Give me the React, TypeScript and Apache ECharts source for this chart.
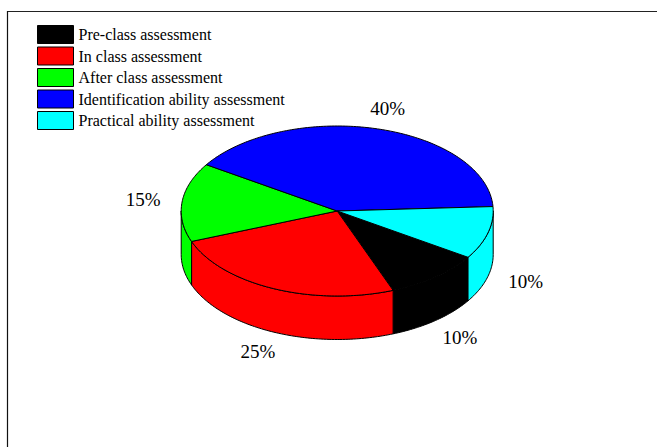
import React, { useEffect, useRef } from "react";
import * as echarts from "echarts";

const categories = [
  "Pre-class assessment",
  "In class assessment",
  "After class assessment",
  "Identification ability assessment",
  "Practical ability assessment",
];
const shares = [10, 25, 15, 40, 10];
const colors = ["#000000", "#ff0000", "#00ff00", "#0000ff", "#00ffff"];

const CX = 337.2;
const CY = 211;
const RX = 156;
const RY = 85;
const DEPTH = 43.5;
const START = 33;
const LABEL_SCALE = 1.25;
const FONT = "'Liberation Serif', 'Times New Roman', serif";

export default function App() {
  const ref = useRef<HTMLDivElement>(null);
  useEffect(() => {
    document.body.style.margin = "0";
    const chart = echarts.init(ref.current!, null, { renderer: "svg" });
    const total = shares.reduce((a, b) => a + b, 0);
    const starts: number[] = [];
    let acc = START;
    shares.forEach((v) => {
      starts.push(acc);
      acc += (v / total) * 360;
    });
    const rad = (d: number) => (d * Math.PI) / 180;
    const pt = (t: number, dy = 0) => [CX + RX * Math.cos(rad(t)), CY + RY * Math.sin(rad(t)) + dy];
    const arc = (a: number, b: number, dy = 0) => {
      const n = Math.max(2, Math.ceil(Math.abs(b - a)));
      const pts: number[][] = [];
      for (let i = 0; i <= n; i++) pts.push(pt(a + ((b - a) * i) / n, dy));
      return pts;
    };

    const series = categories.map((name, i) => ({
      type: "custom",
      name,
      coordinateSystem: "none",
      itemStyle: { color: colors[i] },
      data: [shares[i]],
      renderItem: (params: any, api: any) => {
        const v = api.value(0);
        const s = starts[i];
        const e = s + (v / total) * 360;
        const color = colors[i];
        const children: any[] = [];
        for (const [lo, hi] of [
          [0, 180],
          [360, 540],
        ]) {
          const a = Math.max(s, lo);
          const b = Math.min(e, hi);
          if (a < b) {
            const top = arc(a, b);
            const bottom = arc(b, a, DEPTH);
            children.push({
              type: "polygon",
              z2: 1,
              shape: { points: [...top, ...bottom] },
              style: { fill: color, stroke: "#000", lineWidth: 1 },
            });
          }
        }
        children.push({
          type: "polygon",
          z2: 10,
          shape: { points: [[CX, CY], ...arc(s, e)] },
          style: { fill: color, stroke: "#000", lineWidth: 1 },
        });
        const m = (s + e) / 2;
        const sn = Math.sin(rad(m));
        children.push({
          type: "text",
          z2: 20,
          x: CX + LABEL_SCALE * RX * Math.cos(rad(m)),
          y: CY + LABEL_SCALE * RY * sn + (sn > 0 ? DEPTH : 0),
          style: {
            text: `${Math.round((v / total) * 100)}%`,
            fill: "#000",
            font: `19px ${FONT}`,
            align: "center",
            verticalAlign: "middle",
          },
        });
        return { type: "group", children };
      },
    }));

    chart.setOption({
      animation: false,
      backgroundColor: "#fff",
      legend: {
        orient: "vertical",
        left: 37,
        top: 25,
        padding: 0,
        itemWidth: 36,
        itemHeight: 18,
        itemGap: 2.5,
        icon: "rect",
        selectedMode: false,
        itemStyle: { borderColor: "#000", borderWidth: 1 },
        textStyle: { fontFamily: FONT, fontSize: 16, lineHeight: 18, color: "#000" },
        data: categories,
      },
      graphic: [
        { type: "line", shape: { x1: 7, y1: 11.5, x2: 657, y2: 11.5 }, style: { stroke: "#222", lineWidth: 1 } },
        { type: "line", shape: { x1: 7.5, y1: 11, x2: 7.5, y2: 447 }, style: { stroke: "#111", lineWidth: 1.2 } },
      ],
      series: series as any,
    });
    return () => chart.dispose();
  }, []);
  return <div ref={ref} style={{ width: 657, height: 447 }} />;
}
